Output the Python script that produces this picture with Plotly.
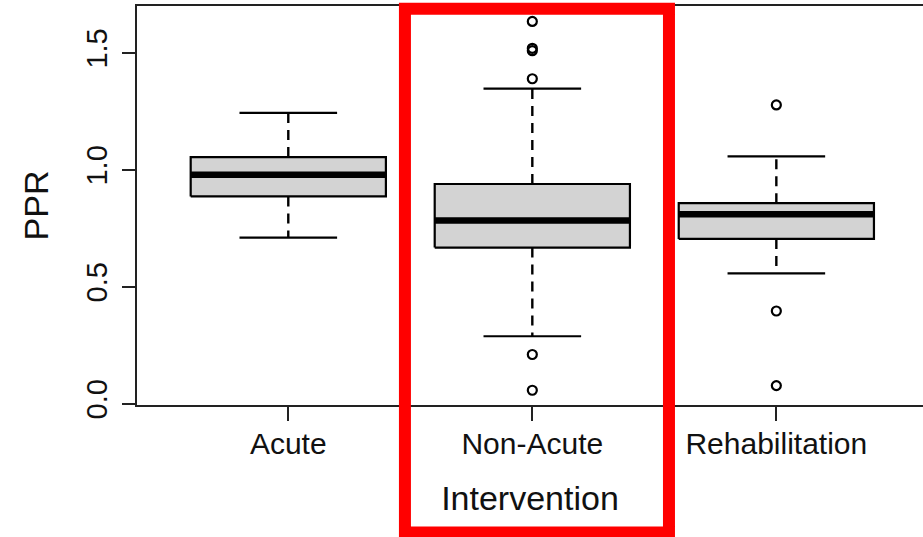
import plotly.graph_objects as go

# ---- data ----
categories = ["Acute", "Non-Acute", "Rehabilitation"]
q1 = [0.886, 0.667, 0.704]
median = [0.979, 0.783, 0.810]
q3 = [1.054, 0.939, 0.857]
lower_whisker = [0.710, 0.288, 0.557]
upper_whisker = [1.243, 1.347, 1.057]
outliers_acute = []
outliers_non_acute = [1.634, 1.519, 1.509, 1.389, 0.210, 0.057]
outliers_rehab = [1.277, 0.396, 0.077]
outliers = [outliers_acute, outliers_non_acute, outliers_rehab]
y_tick_vals = [0.0, 0.5, 1.0, 1.5]
y_tick_text = ["0.0", "0.5", "1.0", "1.5"]

FONT = "Liberation Sans, Arial, Helvetica, sans-serif"
BOX_HALF = 0.4
STAPLE_HALF = 0.2

fig = go.Figure()
positions = list(range(1, len(categories) + 1))

for i, pos in enumerate(positions):
    # whiskers (dashed)
    fig.add_trace(go.Scatter(
        x=[pos, pos, None, pos, pos],
        y=[q3[i], upper_whisker[i], None, q1[i], lower_whisker[i]],
        mode="lines", line=dict(color="black", width=2.4, dash="10px,7px"),
        hoverinfo="skip", showlegend=False))
    # staples
    fig.add_trace(go.Scatter(
        x=[pos - STAPLE_HALF, pos + STAPLE_HALF, None, pos - STAPLE_HALF, pos + STAPLE_HALF],
        y=[upper_whisker[i], upper_whisker[i], None, lower_whisker[i], lower_whisker[i]],
        mode="lines", line=dict(color="black", width=2.2),
        hoverinfo="skip", showlegend=False))
    # box
    fig.add_trace(go.Scatter(
        x=[pos - BOX_HALF, pos + BOX_HALF, pos + BOX_HALF, pos - BOX_HALF, pos - BOX_HALF],
        y=[q1[i], q1[i], q3[i], q3[i], q1[i]],
        mode="lines", fill="toself", fillcolor="#d3d3d3",
        line=dict(color="black", width=2.2),
        hoverinfo="skip", showlegend=False))
    # median
    fig.add_trace(go.Scatter(
        x=[pos - BOX_HALF, pos + BOX_HALF], y=[median[i], median[i]],
        mode="lines", line=dict(color="black", width=6.5),
        hoverinfo="skip", showlegend=False))
    # outliers
    if outliers[i]:
        fig.add_trace(go.Scatter(
            x=[pos] * len(outliers[i]), y=outliers[i], mode="markers",
            marker=dict(symbol="circle-open", size=9, color="black",
                        line=dict(width=2.2, color="black")),
            hoverinfo="skip", showlegend=False))

# red highlight rectangle around the Non-Acute group
fig.add_shape(type="rect", xref="x", yref="paper",
              x0=1.478, x1=2.560, y0=-0.3195, y1=0.993,
              line=dict(color="#ff0000", width=12), fillcolor="rgba(0,0,0,0)",
              layer="above")

fig.update_layout(
    width=923, height=537,
    margin=dict(l=137, r=0, t=6, b=132),
    paper_bgcolor="white", plot_bgcolor="white",
    font=dict(family=FONT, color="#111111"),
    showlegend=False,
    xaxis=dict(
        range=[0.38, 3.601], tickmode="array", tickvals=positions, ticktext=categories,
        ticks="outside", ticklen=14, tickwidth=1.5, tickcolor="#222",
        showline=True, linewidth=1.5, linecolor="#222", mirror=True,
        showgrid=False, zeroline=False, ticklabelstandoff=-3,
        tickfont=dict(size=30, family=FONT, color="#111"),
        title=dict(text="Intervention", font=dict(size=34, family=FONT, color="#111"), standoff=27),
    ),
    yaxis=dict(
        range=[-0.006, 1.70], tickmode="array", tickvals=y_tick_vals, ticktext=y_tick_text,
        ticks="outside", ticklen=13, tickwidth=1.5, tickcolor="#222",
        showline=True, linewidth=1.5, linecolor="#222", mirror=False,
        showgrid=False, zeroline=False, tickangle=-90, ticklabelstandoff=4,
        tickfont=dict(size=29, family=FONT, color="#111"),
        title=dict(text="PPR", font=dict(size=34, family=FONT, color="#111"), standoff=22),
    ),
)

fig.write_html("out.html")
